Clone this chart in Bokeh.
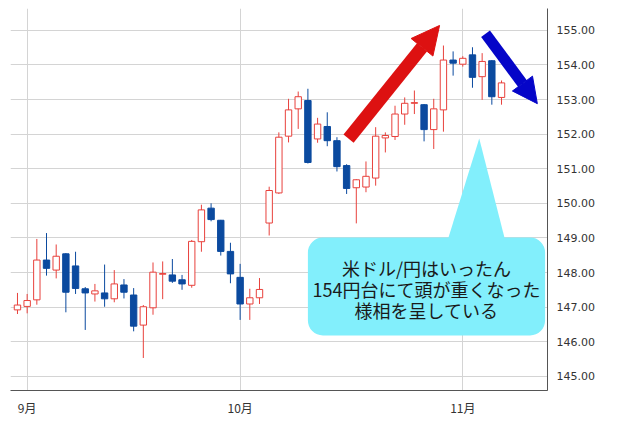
from bokeh.plotting import figure
from bokeh.models import (ColumnDataSource, FixedTicker, NumeralTickFormatter,
                          BoxAnnotation, Arrow, NormalHead, Label)
from bokeh.embed import file_html
from bokeh.resources import INLINE

# ---- data (USD/JPY daily candles) ----
dates = ["2025-08-29",
         "2025-09-01", "2025-09-02", "2025-09-03", "2025-09-04", "2025-09-05",
         "2025-09-08", "2025-09-09", "2025-09-10", "2025-09-11", "2025-09-12",
         "2025-09-15", "2025-09-16", "2025-09-17", "2025-09-18", "2025-09-19",
         "2025-09-22", "2025-09-23", "2025-09-24", "2025-09-25", "2025-09-26",
         "2025-09-29", "2025-09-30",
         "2025-10-01", "2025-10-02", "2025-10-03",
         "2025-10-06", "2025-10-07", "2025-10-08", "2025-10-09", "2025-10-10",
         "2025-10-13", "2025-10-14", "2025-10-15", "2025-10-16", "2025-10-17",
         "2025-10-20", "2025-10-21", "2025-10-22", "2025-10-23", "2025-10-24",
         "2025-10-27", "2025-10-28", "2025-10-29", "2025-10-30", "2025-10-31",
         "2025-11-03", "2025-11-04", "2025-11-05", "2025-11-06", "2025-11-07"]

opens = [146.92, 147.02, 147.21, 148.36, 148.07, 148.54, 148.19, 147.53, 147.38, 147.41,
         147.24, 147.64, 147.35, 146.48, 146.98, 147.95, 147.93, 147.79, 147.63, 148.89,
         149.86, 149.51, 148.61, 147.86, 147.09, 147.27, 149.43, 150.30, 151.94, 152.73,
         152.97, 151.86, 152.22, 151.81, 151.09, 150.45, 150.47, 150.73, 151.89, 151.93,
         152.58, 152.89, 152.85, 152.13, 152.70, 154.14, 154.02, 154.29, 153.66, 154.12,
         153.06]
highs = [147.41, 147.38, 148.97, 149.14, 148.81, 148.56, 148.60, 147.58, 147.67, 148.23,
         148.07, 147.81, 147.55, 147.06, 148.29, 148.32, 148.39, 147.93, 148.94, 149.96,
         150.00, 149.52, 148.86, 148.25, 147.53, 147.84, 150.48, 152.05, 153.02, 153.23,
         153.31, 152.47, 152.63, 151.91, 151.13, 150.70, 151.21, 152.20, 152.05, 152.82,
         153.06, 153.26, 152.87, 153.02, 154.56, 154.39, 154.25, 154.51, 154.34, 154.14,
         153.55]
lows = [146.80, 146.82, 147.07, 147.91, 147.83, 146.85, 147.38, 146.34, 147.16, 147.01,
        147.14, 147.25, 146.30, 145.53, 146.78, 147.23, 147.70, 147.50, 147.56, 148.60,
        149.48, 148.49, 147.69, 146.63, 146.63, 147.09, 149.07, 150.27, 151.76, 152.15,
        151.15, 151.75, 151.65, 150.92, 150.27, 149.42, 150.32, 150.51, 151.47, 151.83,
        152.27, 152.58, 151.79, 151.57, 152.07, 153.69, 153.95, 153.34, 152.99, 152.85,
        152.85]
closes = [147.06, 147.19, 148.36, 148.12, 148.47, 147.43, 147.54, 147.41, 147.47, 147.24,
          147.67, 147.43, 146.45, 147.01, 148.01, 147.97, 147.75, 147.67, 148.90, 149.81,
          149.53, 148.61, 147.96, 147.09, 147.27, 147.51, 150.37, 151.91, 152.70, 153.08,
          151.18, 152.29, 151.81, 151.06, 150.43, 150.68, 150.78, 151.94, 151.96, 152.58,
          152.89, 152.91, 152.13, 152.73, 154.14, 154.05, 154.19, 153.64, 154.10, 153.08,
          153.48]

month_starts = ["2025-09-01", "2025-10-01", "2025-11-03"]
month_labels = ["9月", "10月", "11月"]
price_ticks = [145, 146, 147, 148, 149, 150, 151, 152, 153, 154, 155]

note_lines = ["米ドル/円はいったん", "154円台にて頭が重くなった", "様相を呈している"]

UP = "#e8413c"
DOWN = "#0b4a9f"

# ---- build sources ----
idx = list(range(len(dates)))
up = {"x": [], "top": [], "bottom": [], "high": [], "low": []}
dn = {"x": [], "top": [], "bottom": [], "high": [], "low": []}
for i, o, h, l, c in zip(idx, opens, highs, lows, closes):
    d = up if c >= o else dn
    d["x"].append(i)
    d["top"].append(max(o, c))
    d["bottom"].append(min(o, c))
    d["high"].append(h)
    d["low"].append(l)
src_up = ColumnDataSource(up)
src_dn = ColumnDataSource(dn)

X0, X1 = -0.72, 54.75
Y0, Y1 = 144.59, 155.63
p = figure(width=620, height=418, output_backend="svg", toolbar_location=None,
           x_range=(X0, X1), y_range=(Y0, Y1),
           y_axis_location="right",
           min_border_left=10, min_border_right=73, min_border_top=8, min_border_bottom=28)
p.outline_line_color = None
p.background_fill_color = "white"
p.border_fill_color = "white"

# axes
xticks = [dates.index(d) for d in month_starts]
p.xaxis.ticker = FixedTicker(ticks=xticks)
p.xaxis.major_label_overrides = {t: lab for t, lab in zip(xticks, month_labels)}
p.xaxis.minor_tick_line_color = None
p.xaxis.major_tick_out = 0
p.xaxis.major_tick_in = 0
p.xaxis.axis_line_color = "#555555"
p.xaxis.major_label_text_font = "Noto Sans CJK JP"
p.xaxis.major_label_text_font_size = "12px"
p.xaxis.major_label_text_color = "#333333"
p.xaxis.major_label_standoff = 8

p.yaxis.ticker = FixedTicker(ticks=price_ticks)
p.yaxis.formatter = NumeralTickFormatter(format="0.00")
p.yaxis.minor_tick_line_color = None
p.yaxis.major_tick_out = 0
p.yaxis.major_tick_in = 0
p.yaxis.axis_line_color = "#555555"
p.yaxis.major_label_text_font = "DejaVu Sans"
p.yaxis.major_label_text_font_size = "11px"
p.yaxis.major_label_text_color = "#333333"
p.yaxis.major_label_standoff = 9

p.xgrid.ticker = FixedTicker(ticks=xticks)
p.ygrid.ticker = FixedTicker(ticks=price_ticks)
p.xgrid.grid_line_color = "#d4d4d4"
p.ygrid.grid_line_color = "#d4d4d4"

# axis-line extensions into the label areas (as in the original panel)
px_x = (X1 - X0) / 537.0
px_y = (Y1 - Y0) / 382.0
p.add_layout(BoxAnnotation(left=X1, right=X1 + 72 * px_x, top=Y0 + 0.5 * px_y,
                           bottom=Y0 - 0.5 * px_y, fill_color="#555555", fill_alpha=1,
                           line_color=None, level="overlay"))
p.add_layout(BoxAnnotation(left=X1 - 0.5 * px_x, right=X1 + 0.5 * px_x, top=Y0,
                           bottom=Y0 - 27 * px_y, fill_color="#555555", fill_alpha=1,
                           line_color=None, level="overlay"))

# candles
p.segment(x0="x", y0="low", x1="x", y1="high", source=src_up, line_color=UP, line_width=1)
p.segment(x0="x", y0="low", x1="x", y1="high", source=src_dn, line_color=DOWN, line_width=1)
p.vbar(x="x", top="top", bottom="bottom", width=0.66, source=src_up,
       fill_color="white", line_color=UP, line_width=1)
p.vbar(x="x", top="top", bottom="bottom", width=0.66, source=src_dn,
       fill_color=DOWN, line_color=DOWN, line_width=1)

# callout
CYAN = "#82effc"
p.patch([44.4, 47.7, 50.4], [148.9, 151.87, 148.9], fill_color=CYAN, line_color=None)
box = BoxAnnotation(left=30.0, right=54.5, top=149.01, bottom=146.18,
                    fill_color=CYAN, fill_alpha=1.0, line_color=None, border_radius=15)
p.add_layout(box)
for txt, yy in zip(note_lines, [148.14, 147.53, 146.93]):
    p.add_layout(Label(x=42.25, y=yy, text=txt, text_align="center", text_baseline="middle",
                       text_font="Noto Sans CJK JP", text_font_size="18px",
                       text_color="#1a1a1a"))

# arrows
RED = "#dd1111"
BLUE = "#0505c8"
p.add_layout(Arrow(end=NormalHead(size=28, fill_color=RED, line_color=RED),
                   x_start=34.2, y_start=151.87, x_end=43.6, y_end=155.14,
                   line_width=13, line_color=RED))
p.add_layout(Arrow(end=NormalHead(size=25, fill_color=BLUE, line_color=BLUE),
                   x_start=48.35, y_start=154.90, x_end=53.7, y_end=152.88,
                   line_width=11, line_color=BLUE))

open("out.html", "w").write(file_html(p, INLINE))
